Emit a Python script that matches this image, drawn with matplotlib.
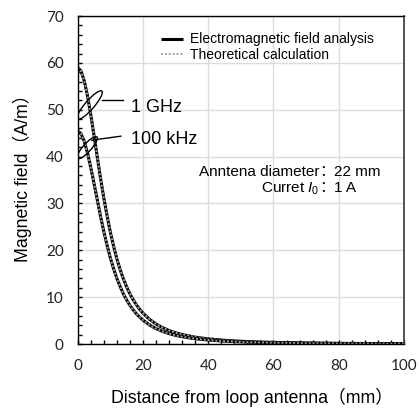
import matplotlib
matplotlib.use("Agg")
import matplotlib.pyplot as plt
import matplotlib.ticker as ticker
from matplotlib.patches import Ellipse
from matplotlib.transforms import ScaledTranslation

# distance from loop antenna (mm)
distance = [0, 1, 2, 3, 4, 5, 6, 7, 8, 9, 10, 11, 12, 13, 14, 15, 16, 17, 18, 19, 20,
            22, 24, 26, 28, 30, 32, 34, 36, 38, 40, 45, 50, 55, 60, 70, 80, 90, 100]

# magnetic field (A/m)
em_1ghz = [59.0, 58.3, 56.2, 53.0, 49.0, 44.5, 39.9, 35.4, 31.2, 27.4, 23.9, 20.9, 18.2,
           15.9, 13.9, 12.2, 10.7, 9.46, 8.36, 7.42, 6.61, 5.28, 4.27, 3.49, 2.88, 2.40,
           2.03, 1.73, 1.47, 1.27, 1.10, 0.79, 0.58, 0.44, 0.35, 0.22, 0.14, 0.10, 0.08]
theory_1ghz = [59.0, 58.3, 56.2, 53.0, 49.0, 44.5, 39.9, 35.4, 31.2, 27.4, 23.9, 20.9, 18.2,
               15.9, 13.9, 12.2, 10.7, 9.46, 8.36, 7.42, 6.61, 5.28, 4.27, 3.49, 2.88, 2.40,
               2.03, 1.73, 1.47, 1.27, 1.10, 0.79, 0.58, 0.44, 0.35, 0.22, 0.14, 0.10, 0.08]
em_100khz = [45.5, 44.9, 43.3, 40.8, 37.7, 34.3, 30.8, 27.3, 24.0, 21.1, 18.4, 16.1, 14.0,
             12.3, 10.7, 9.40, 8.26, 7.29, 6.44, 5.72, 5.09, 4.07, 3.29, 2.69, 2.22, 1.85,
             1.56, 1.33, 1.13, 0.98, 0.85, 0.61, 0.45, 0.34, 0.27, 0.17, 0.11, 0.08, 0.06]
theory_100khz = [45.5, 44.9, 43.3, 40.8, 37.7, 34.3, 30.8, 27.3, 24.0, 21.1, 18.4, 16.1, 14.0,
                 12.3, 10.7, 9.40, 8.26, 7.29, 6.44, 5.72, 5.09, 4.07, 3.29, 2.69, 2.22, 1.85,
                 1.56, 1.33, 1.13, 0.98, 0.85, 0.61, 0.45, 0.34, 0.27, 0.17, 0.11, 0.08, 0.06]

txt_font = ['Liberation Sans', 'Noto Sans CJK JP']
colon_font = ['Noto Sans CJK SC', 'Liberation Sans']
plt.rcParams['font.family'] = txt_font
plt.rcParams['mathtext.fontset'] = 'custom'
plt.rcParams['mathtext.rm'] = 'Liberation Sans'
plt.rcParams['mathtext.it'] = 'Liberation Sans:italic'

fig = plt.figure(figsize=(4.19, 4.11), dpi=100)
ax = fig.add_axes([0.1854, 0.163, 0.7788, 0.798])

em_style = dict(color='black', linewidth=2.2, solid_capstyle='butt')
th_style = dict(color='#a0a0a0', linewidth=1.4, linestyle=(0, (1, 1)))

ax.plot(distance, em_1ghz, label='Electromagnetic field analysis', **em_style)
ax.plot(distance, theory_1ghz, label='Theoretical calculation', **th_style)
ax.plot(distance, em_100khz, **em_style)
ax.plot(distance, theory_100khz, **th_style)

ax.set_xlim(0, 100)
ax.set_ylim(0, 70)
ax.xaxis.set_major_locator(ticker.MultipleLocator(20))
ax.xaxis.set_minor_locator(ticker.MultipleLocator(4))
ax.yaxis.set_major_locator(ticker.MultipleLocator(10))
ax.yaxis.set_minor_locator(ticker.MultipleLocator(2))
ax.tick_params(which='both', direction='in', length=3, width=1, color='black')
ax.tick_params(axis='x', which='major', pad=11)
ax.tick_params(axis='y', which='major', pad=10)
for lab in ax.get_xticklabels() + ax.get_yticklabels():
    lab.set_fontfamily('Lato')
    lab.set_fontsize(11)
    lab.set_color('#222222')

ax.grid(True, which='major', color='#dcdcdc', linewidth=1)
ax.set_axisbelow(True)
for s in ax.spines.values():
    s.set_color('black')
    s.set_linewidth(1)
ax.spines['right'].set_color('#444444')
ax.spines['right'].set_linewidth(1.3)

ax.set_xlabel('Distance from loop antenna（mm）', fontsize=12.8)
ax.set_ylabel('Magnetic field（A/m）', fontsize=12.8)
ax.xaxis.set_label_coords(0.535, -0.132)
ax.yaxis.set_label_coords(-0.14, 0.518)

ax.legend(loc='upper left', bbox_to_anchor=(0.255, 0.95), frameon=False, fontsize=10,
          handlelength=1.6, handletextpad=0.5, labelspacing=0.1, borderpad=0,
          borderaxespad=0)

# ellipse markers around the curve pairs
for cx, cy, w, h, ang in [(3.68, 51.0, 0.37, 0.09, 49), (2.91, 41.9, 0.29, 0.08, 48)]:
    tr = fig.dpi_scale_trans + ScaledTranslation(cx, cy, ax.transData)
    ax.add_patch(Ellipse((0, 0), w, h, angle=ang, transform=tr, fill=False,
                         edgecolor='black', linewidth=1, zorder=5))
ax.plot([7.36, 13.98], [52.0, 52.0], color='black', linewidth=1)
ax.plot([4.29, 13.2], [43.5, 44.35], color='black', linewidth=1)
ax.text(16.3, 49.6, '1 GHz', fontsize=13, va='baseline', ha='left')
ax.text(16.3, 42.6, '100 kHz', fontsize=13, va='baseline', ha='left')

xc = 74.0
xv = 78.4
ax.text(xc, 35.9, 'Anntena diameter', fontsize=11, ha='right', va='baseline')
ax.text(xc, 35.9, '：', fontsize=11, ha='left', va='baseline', family=colon_font)
ax.text(xv, 35.9, '22 mm', fontsize=11, ha='left', va='baseline')
ax.text(xc, 32.4, r'Curret $\mathit{I}_\mathrm{0}$', fontsize=11, ha='right', va='baseline')
ax.text(xc, 32.4, '：', fontsize=11, ha='left', va='baseline', family=colon_font)
ax.text(xv, 32.4, '1 A', fontsize=11, ha='left', va='baseline')

fig.savefig('out.png', dpi=100)
